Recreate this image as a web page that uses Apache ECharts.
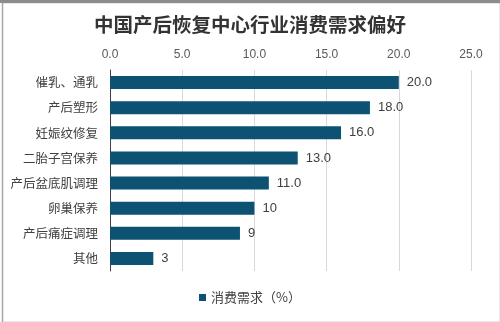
<!DOCTYPE html>
<html>
<head>
<meta charset="utf-8">
<script src="https://cdn.jsdelivr.net/npm/echarts@6/dist/echarts.min.js"></script>
<style>
  html, body { margin: 0; padding: 0; background: #fff; }
  #chart { width: 500px; height: 322px; }
</style>
</head>
<body>
<div id="chart"></div>
<script>
// Consumer demand preferences at postpartum recovery centres in China
const categories = ['催乳、通乳', '产后塑形', '妊娠纹修复', '二胎子宫保养', '产后盆底肌调理', '卵巢保养', '产后痛症调理', '其他'];
const values = [20, 18, 16, 13, 11, 10, 9, 3];
const valueLabels = ['20.0', '18.0', '16.0', '13.0', '11.0', '10', '9', '3'];
const seriesName = '消费需求（%）';
const titleText = '中国产后恢复中心行业消费需求偏好';

const chart = echarts.init(document.getElementById('chart'), null, { renderer: 'canvas' });

chart.setOption({
  animation: false,
  backgroundColor: '#fff',
  textStyle: { fontFamily: '"Noto Sans CJK SC", "Liberation Sans", sans-serif' },
  title: {
    text: titleText,
    left: 'center',
    top: 10,
    textStyle: { fontSize: 19.5, fontWeight: 'bold', color: '#333', fontFamily: '"Noto Sans CJK SC", sans-serif' }
  },
  legend: {
    bottom: 13,
    left: 'center',
    icon: 'rect',
    itemWidth: 7,
    itemHeight: 7,
    itemGap: 7,
    textStyle: { fontSize: 13, color: '#404040' },
    data: [seriesName]
  },
  grid: { left: 110, right: 29, top: 70, bottom: 51 },
  xAxis: {
    type: 'value',
    position: 'top',
    min: 0,
    max: 25,
    interval: 5,
    axisLine: { show: false },
    axisTick: { show: false },
    axisLabel: {
      fontSize: 12,
      color: '#595959',
      margin: 9,
      fontFamily: '"Liberation Sans", Arial, sans-serif',
      formatter: v => v.toFixed(1)
    },
    splitLine: { show: true, lineStyle: { color: '#d9d9d9', width: 1 } }
  },
  yAxis: {
    type: 'category',
    inverse: true,
    data: categories,
    axisLine: { show: true, lineStyle: { color: '#404040', width: 1 } },
    axisTick: { show: false },
    axisLabel: { fontSize: 12.5, color: '#404040', margin: 12 }
  },
  series: [{
    name: seriesName,
    type: 'bar',
    data: values,
    barWidth: '52%',
    itemStyle: { color: '#0d5272' },
    label: {
      show: true,
      position: 'right',
      distance: 8,
      fontSize: 13,
      color: '#404040',
      fontFamily: '"Liberation Sans", Arial, sans-serif',
      formatter: p => valueLabels[p.dataIndex]
    }
  }],
  graphic: [{
    type: 'rect',
    left: 0,
    top: 0,
    shape: { x: 0.5, y: 0.5, width: 498, height: 320 },
    style: { fill: 'none', stroke: '#a6a6a6', lineWidth: 1.5 },
    silent: true
  }, {
    type: 'rect',
    left: 0,
    top: 0,
    shape: { x: 0, y: 319, width: 500, height: 3 },
    style: { fill: '#8c8c8c' },
    silent: true
  }]
});
</script>
</body>
</html>
